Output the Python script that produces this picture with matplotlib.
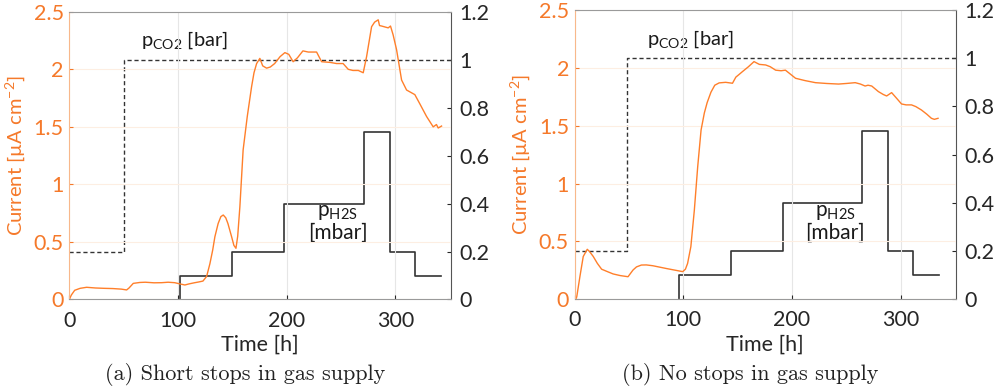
import matplotlib
matplotlib.use("Agg")
import matplotlib.pyplot as plt

plt.rcParams['font.family'] = ['Lato', 'DejaVu Sans']
plt.rcParams['mathtext.default'] = 'regular'

# panel (a): short stops in gas supply
time_a = [0, 2, 5, 10, 16, 24, 32, 40, 48, 52.8, 55, 58.9, 65, 70, 78, 85, 91, 97, 102, 106.4,
          110, 115, 119, 123, 126.4, 129.4, 132, 134, 137, 139.5, 141.7, 144, 146, 149.4,
          151.5, 153.4, 155, 157, 160, 163.8, 167.8, 170, 172.4, 175.4, 178, 181.6, 185,
          189, 194, 198.4, 202, 206, 210, 215, 220, 227.6, 232.2, 240, 246, 252, 256.7,
          261, 266, 270.5, 273.6, 278.2, 281, 284.3, 285.5, 287.4, 293.5, 295.6, 298,
          301.2, 305.8, 310.4, 318, 322.6, 328.8, 334.9, 337.9, 339.5, 342.6]
current_a = [0, 0.04, 0.08, 0.097, 0.106, 0.1, 0.097, 0.095, 0.09, 0.083, 0.1, 0.14, 0.148,
             0.15, 0.145, 0.146, 0.15, 0.146, 0.135, 0.126, 0.135, 0.145, 0.152, 0.16, 0.2,
             0.31, 0.43, 0.545, 0.66, 0.72, 0.734, 0.71, 0.66, 0.545, 0.47, 0.445, 0.55,
             0.806, 1.30, 1.59, 1.85, 1.97, 2.05, 2.095, 2.03, 2.01, 2.02, 2.05, 2.11, 2.145,
             2.13, 2.066, 2.1, 2.16, 2.15, 2.15, 2.066, 2.06, 2.05, 2.05, 2.0, 1.99, 1.99,
             1.97, 2.11, 2.37, 2.41, 2.43, 2.38, 2.376, 2.36, 2.376, 2.3, 2.17, 1.907, 1.82,
             1.78, 1.70, 1.59, 1.50, 1.52, 1.49, 1.507]
co2_t_a = [0, 50, 50, 351]
co2_a = [0.2, 0.2, 1, 1]
h2s_t_a = [102, 102, 150, 150, 198, 198, 271, 271, 295, 295, 318, 318, 342]
h2s_a = [0, 0.1, 0.1, 0.2, 0.2, 0.4, 0.4, 0.7, 0.7, 0.2, 0.2, 0.1, 0.1]

# panel (b): no stops in gas supply
time_b = [1, 2, 5, 8, 11.7, 14, 17.2, 21, 24.9, 30, 35.5, 42, 49.2, 53.8, 57, 61.5, 66, 72,
          85, 99.5, 102, 104, 107, 110.2, 113.3, 116.4, 119.4, 122, 125.5, 129, 133, 139,
          145.3, 148.4, 151, 154.4, 160, 165.1, 170, 175.8, 180, 185, 190, 194, 198, 203.3,
          212, 221.6, 232, 242.9, 250, 258.2, 263, 267.3, 270, 273.4, 279.5, 284, 287.1,
          291.7, 296, 300.8, 305, 310, 314, 319.1, 324, 328.3, 331, 334.4]
current_b = [0, 0.02, 0.2, 0.37, 0.432, 0.41, 0.37, 0.31, 0.26, 0.24, 0.219, 0.205, 0.195,
             0.253, 0.28, 0.296, 0.297, 0.29, 0.265, 0.239, 0.26, 0.31, 0.455, 0.77, 1.146,
             1.463, 1.61, 1.70, 1.79, 1.85, 1.87, 1.875, 1.867, 1.92, 1.94, 1.967, 2.01,
             2.054, 2.03, 2.025, 2.01, 1.98, 1.975, 1.98, 1.95, 1.91, 1.89, 1.872, 1.865,
             1.86, 1.865, 1.872, 1.86, 1.843, 1.85, 1.843, 1.795, 1.77, 1.757, 1.786, 1.74,
             1.688, 1.68, 1.68, 1.665, 1.636, 1.6, 1.564, 1.555, 1.564]
co2_t_b = [0, 48, 48, 351]
co2_b = [0.2, 0.2, 1, 1]
h2s_t_b = [96, 96, 144, 144, 192, 192, 264, 264, 288, 288, 311.5, 311.5, 335]
h2s_b = [0, 0.1, 0.1, 0.2, 0.2, 0.4, 0.4, 0.7, 0.7, 0.2, 0.2, 0.1, 0.1]

captions = ['(a) Short stops in gas supply', '(b) No stops in gas supply']
co2_label_pos = [(106, 1.08), (106.5, 1.08)]
h2s_label_pos = [(247, 0.32), (240, 0.32)]

orange = '#FF7F2A'
orange_txt = '#F5792A'
dark = '#333333'

fig = plt.figure(figsize=(9.98, 3.92), dpi=100)
rects = [[0.0694, 0.236, 0.3822, 0.734], [0.5757, 0.2365, 0.3823, 0.738]]
panels = [(time_a, current_a, co2_t_a, co2_a, h2s_t_a, h2s_a),
          (time_b, current_b, co2_t_b, co2_b, h2s_t_b, h2s_b)]

for i, (t, cur, ct, co2, ht, h2s) in enumerate(panels):
    ax = fig.add_axes(rects[i])
    ax2 = ax.twinx()
    ax.set_zorder(2)
    ax.patch.set_visible(False)

    ax.plot(t, cur, color=orange, lw=1.0)
    ax.set_xlim(0, 351)
    ax.set_ylim(0, 2.5)
    ax.set_xticks([0, 100, 200, 300])
    ax.set_yticks([0, 0.5, 1, 1.5, 2, 2.5])
    ax.set_yticklabels(['0', '0.5', '1', '1.5', '2', '2.5'])
    ax.xaxis.grid(True, color='#e6e6e6', lw=0.8)
    ax.yaxis.grid(True, color='#fdeee2', lw=0.8)
    ax.set_axisbelow(True)
    ax.tick_params(axis='x', direction='in', length=3, labelsize=15.5, colors='#262626',
                   pad=8)
    ax.tick_params(axis='y', direction='in', length=3, labelsize=15.5, colors=orange_txt,
                   pad=4)
    ax.set_xlabel('Time [h]', fontsize=15.5, color='#262626', labelpad=3)
    ax.set_ylabel('Current [µA cm$^{-2}$]', fontsize=14.5, color=orange_txt, labelpad=5)
    for s in ['top', 'bottom']:
        ax.spines[s].set_color('#9a9a9a')
    ax.spines['left'].set_color('#f8b88b')
    ax.spines['right'].set_visible(False)

    ax2.plot(ct, co2, color=dark, lw=1.0, ls=(0, (3, 2)))
    ax2.plot(ht, h2s, color=dark, lw=1.2)
    ax2.set_ylim(0, 1.2)
    ax2.set_yticks([0, 0.2, 0.4, 0.6, 0.8, 1, 1.2])
    ax2.set_yticklabels(['0', '0.2', '0.4', '0.6', '0.8', '1', '1.2'])
    ax2.tick_params(axis='y', direction='in', length=3, labelsize=15.5, colors='#262626',
                    pad=6)
    ax2.spines['right'].set_color('#555555')
    for s in ['top', 'bottom', 'left']:
        ax2.spines[s].set_visible(False)

    x, y = co2_label_pos[i]
    ax2.text(x, y, 'p$_{CO2}$ [bar]', fontsize=14.5, ha='center', va='center',
             color='#1a1a1a')
    x, y = h2s_label_pos[i]
    ax2.text(x, y, 'p$_{H2S}$\n[mbar]', fontsize=15, ha='center', va='center',
             color='#1a1a1a', linespacing=1.05)

    cx = rects[i][0] + rects[i][2] / 2 - 0.015
    fig.text(cx, 1 - 375 / 392, captions[i], family='cmr10', fontsize=16,
             ha='center', va='center', color='#222222')

fig.savefig('out.png', dpi=100)
